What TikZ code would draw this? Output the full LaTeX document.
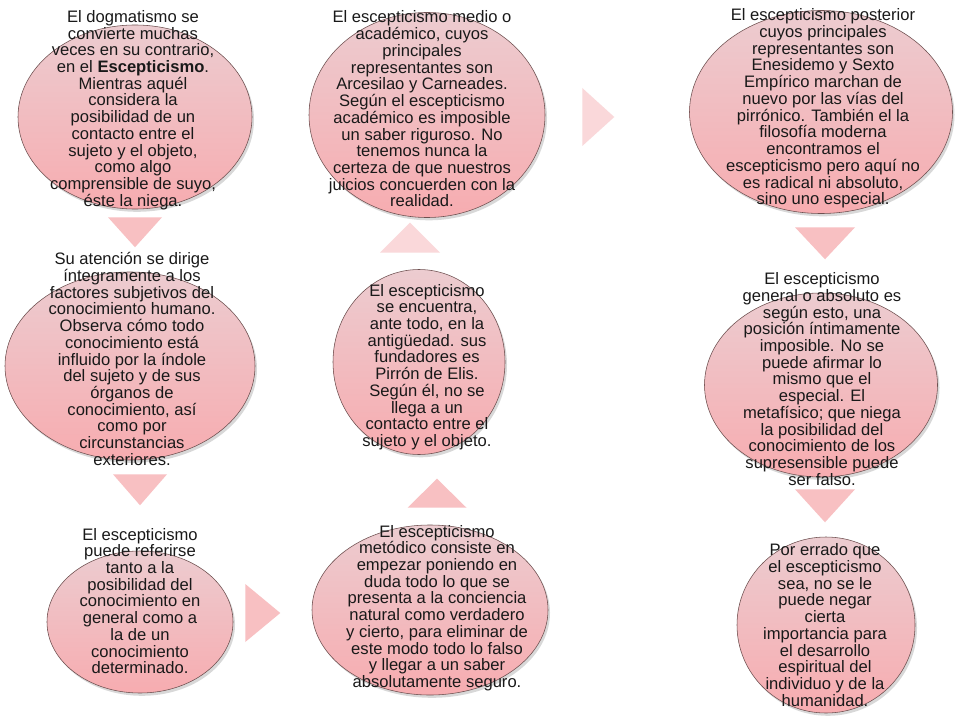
\documentclass[tikz,border=0pt]{standalone}
\usepackage{fontspec}
\setmainfont{Liberation Sans}
\usetikzlibrary{shapes.geometric,shadows}

\definecolor{stagetop}{RGB}{236,204,208}
\definecolor{stagebot}{RGB}{247,172,176}
\definecolor{stageline}{RGB}{110,80,80}
\definecolor{tripink}{RGB}{248,192,194}
\definecolor{tripale}{RGB}{250,216,218}
\definecolor{ink}{RGB}{25,25,25}

\begin{document}
\begin{tikzpicture}
  [stage/.style={ellipse,draw=stageline,thin,top color=stagetop,bottom color=stagebot,
     drop shadow={opacity=0.3,shadow xshift=0.05cm,shadow yshift=-0.07cm}},
   txt/.style={align=center,text=ink,inner sep=0pt,font=\fontsize{11.8}{11.9}\selectfont},
   tri/.style={isosceles triangle,isosceles triangle stretches,inner sep=0pt,draw=none,fill=tripink,anchor=apex},
   tridown/.style={tri,shape border rotate=-90},
   triup/.style={tri,shape border rotate=90},
   triright/.style={tri,shape border rotate=0}]
  \useasboundingbox (0,0) rectangle (24,18);
  \fill[white] (0,0) rectangle (24,18);
  % left column
  \node[stage,minimum width=5.85cm,minimum height=4.6cm] (e1) at (3.375,15.075) {};
  \node[txt] (t1) at (3.325,15.25) {El dogmatismo se\\convierte muchas\\veces en su contrario,\\en el \textbf{Escepticismo}.\\Mientras aquél\\considera la\\posibilidad de un\\contacto entre el\\sujeto y el objeto,\\como algo\\comprensible de suyo,\\éste la niega.};
  \node[stage,minimum width=6.25cm,minimum height=4.7cm] (e2) at (3.25,8.85) {};
  \node[txt] (t2) at (3.3,9.025) {Su atención se dirige\\íntegramente a los\\factores subjetivos del\\conocimiento humano.\\Observa cómo todo\\conocimiento está\\influido por la índole\\del sujeto y de sus\\órganos de\\conocimiento, así\\como por\\circunstancias\\exteriores.};
  \node[stage,minimum width=4.65cm,minimum height=3.55cm] (e3) at (3.5,2.45) {};
  \node[txt] (t3) at (3.5,2.975) {El escepticismo\\puede referirse\\tanto a la\\posibilidad del\\conocimiento en\\general como a\\la de un\\conocimiento\\determinado.};
  % middle column
  \node[stage,minimum width=5.9cm,minimum height=4.25cm] (e6) at (10.75,2.75) {};
  \node[txt] (t6) at (10.925,2.8) {El escepticismo\\metódico consiste en\\empezar poniendo en\\duda todo lo que se\\presenta a la conciencia\\natural como verdadero\\y cierto, para eliminar de\\este modo todo lo falso\\y llegar a un saber\\absolutamente seguro.};
  \node[stage,minimum width=4.3cm,minimum height=4.625cm] (e5) at (10.475,8.95) {};
  \node[txt] (t5) at (10.675,8.825) {El escepticismo\\se encuentra,\\ante todo, en la\\antigüedad. sus\\fundadores es\\Pirrón de Elis.\\Según él, no se\\llega a un\\contacto entre el\\sujeto y el objeto.};
  \node[stage,minimum width=5.9cm,minimum height=5.125cm] (e4) at (10.675,15.125) {};
  \node[txt] (t4) at (10.55,15.275) {El escepticismo medio o\\académico, cuyos\\principales\\representantes son\\Arcesilao y Carneades.\\Según el escepticismo\\académico es imposible\\un saber riguroso. No\\tenemos nunca la\\certeza de que nuestros\\juicios concuerden con la\\realidad.};
  % right column
  \node[stage,minimum width=6.575cm,minimum height=5.075cm] (e7) at (20.525,15.2) {};
  \node[txt] (t7) at (20.575,15.2875) {El escepticismo posterior\\cuyos principales\\representantes son\\Enesidemo y Sexto\\Empírico marchan de\\nuevo por las vías del\\pirrónico. También el la\\filosofía moderna\\encontramos el\\escepticismo pero aquí no\\es radical ni absoluto,\\sino uno especial.};
  \node[stage,minimum width=5.825cm,minimum height=4.6cm] (e8) at (20.525,8.375) {};
  \node[txt] (t8) at (20.55,8.525) {El escepticismo\\general o absoluto es\\según esto, una\\posición íntimamente\\imposible. No se\\puede afirmar lo\\mismo que el\\especial. El\\metafísico; que niega\\la posibilidad del\\conocimiento de los\\supresensible puede\\ser falso.};
  \node[stage,minimum width=4.45cm,minimum height=4.4cm] (e9) at (20.65,2.375) {};
  \node[txt] (t9) at (20.625,2.375) {Por errado que\\el escepticismo\\sea, no se le\\puede negar\\cierta\\importancia para\\el desarrollo\\espiritual del\\individuo y de la\\humanidad.};
  % arrows between the steps
  \node[tridown,minimum width=1.35cm,minimum height=0.75cm] (a12) at (3.375,11.8) {};
  \node[tridown,minimum width=1.35cm,minimum height=0.775cm] (a23) at (3.5,5.35) {};
  \node[triright,minimum width=1.45cm,minimum height=0.875cm] (a36) at (7.025,2.675) {};
  \node[triup,minimum width=1.475cm,minimum height=0.725cm] (a65) at (10.925,6.05) {};
  \node[triup,fill=tripale,minimum width=1.5cm,minimum height=0.75cm] (a54) at (10.25,12.45) {};
  \node[triright,fill=tripale,minimum width=1.45cm,minimum height=0.8cm] (a47) at (15.375,15.075) {};
  \node[tridown,minimum width=1.5cm,minimum height=0.8cm] (a78) at (20.625,11.5) {};
  \node[tridown,minimum width=1.5cm,minimum height=0.825cm] (a89) at (20.625,4.925) {};
\end{tikzpicture}
\end{document}
